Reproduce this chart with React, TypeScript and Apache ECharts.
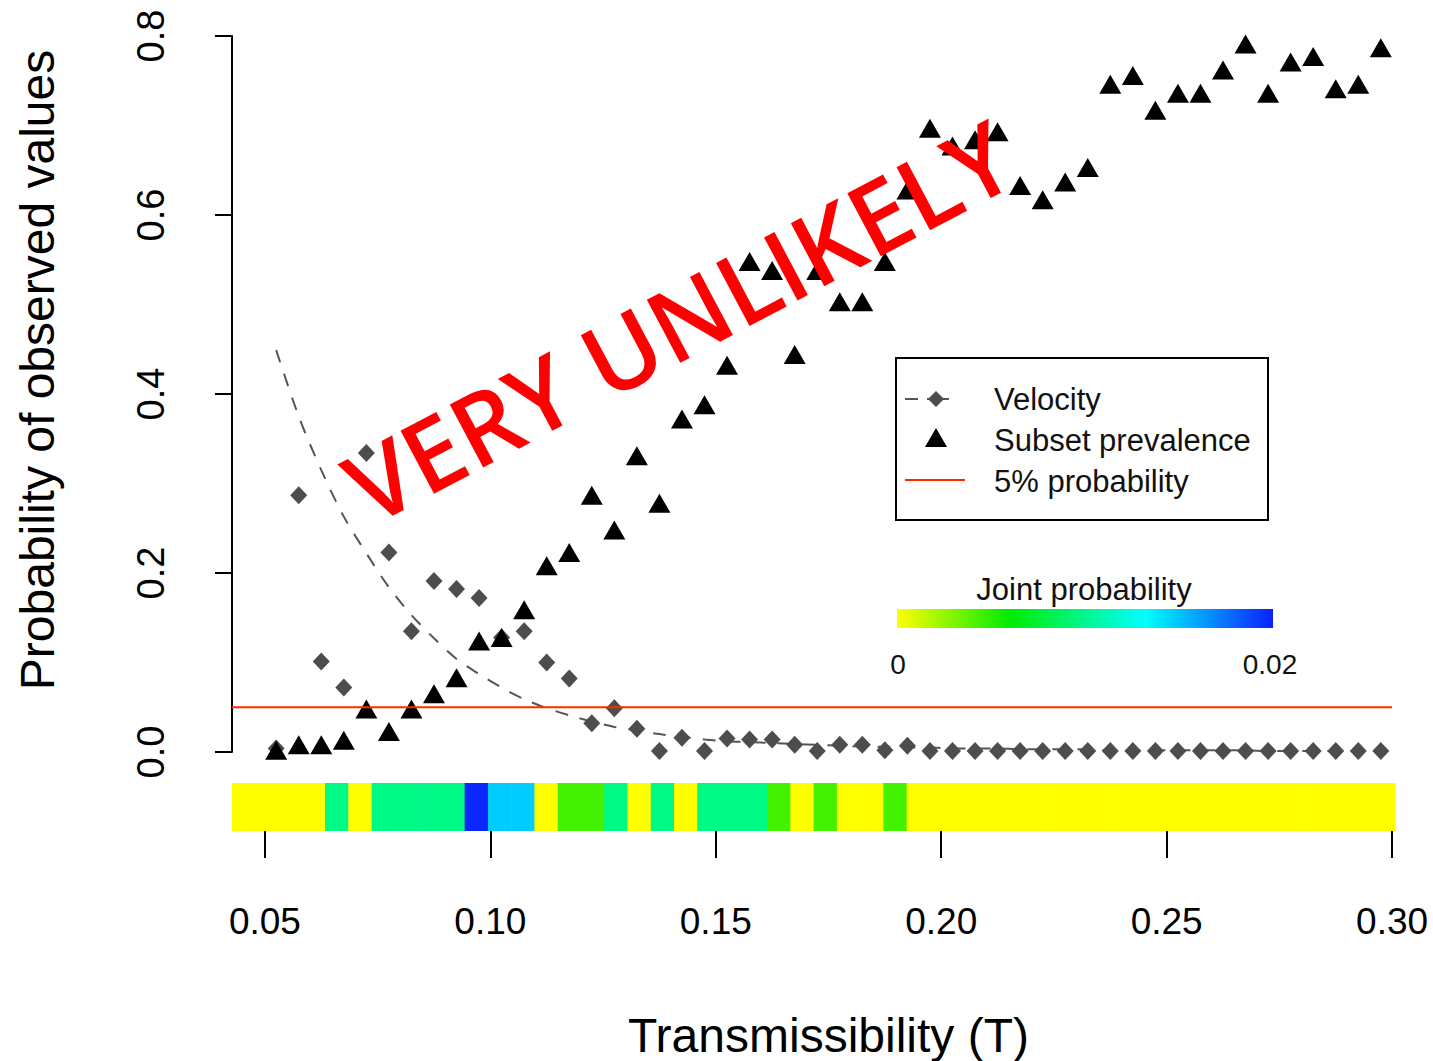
import React, { useEffect, useRef } from "react";
import * as echarts from "echarts";

// Transmissibility values (x)
const T_VALUES = [
  0.0525, 0.0575, 0.0625, 0.0675, 0.0725, 0.0775, 0.0825, 0.0875, 0.0925, 0.0975,
  0.1025, 0.1075, 0.1125, 0.1175, 0.1225, 0.1275, 0.1325, 0.1375, 0.1425, 0.1475,
  0.1525, 0.1575, 0.1625, 0.1675, 0.1725, 0.1775, 0.1825, 0.1875, 0.1925, 0.1975,
  0.2025, 0.2075, 0.2125, 0.2175, 0.2225, 0.2275, 0.2325, 0.2375, 0.2425, 0.2475,
  0.2525, 0.2575, 0.2625, 0.2675, 0.2725, 0.2775, 0.2825, 0.2875, 0.2925, 0.2975,
];

// Probability of observed subset prevalence (triangles)
const SUBSET_PREVALENCE = [
  0.002, 0.008, 0.008, 0.013, 0.048, 0.023, 0.048, 0.065, 0.083, 0.124,
  0.128, 0.159, 0.208, 0.223, 0.287, 0.248, 0.331, 0.278, 0.372, 0.388,
  0.432, 0.548, 0.538, 0.444, 0.538, 0.503, 0.503, 0.548, 0.628, 0.697,
  0.677, 0.684, 0.693, 0.633, 0.617, 0.637, 0.653, 0.746, 0.756, 0.717,
  0.736, 0.736, 0.762, 0.791, 0.736, 0.771, 0.777, 0.741, 0.746, 0.787,
];

// Probability of observed velocity (diamonds)
const VELOCITY = [
  0.004, 0.287, 0.101, 0.072, 0.334, 0.223, 0.135, 0.191, 0.182, 0.172,
  0.128, 0.135, 0.100, 0.082, 0.032, 0.049, 0.026, 0.001, 0.016, 0.001,
  0.015, 0.014, 0.014, 0.008, 0.001, 0.008, 0.008, 0.002, 0.007, 0.001,
  0.001, 0.001, 0.001, 0.001, 0.001, 0.001, 0.001, 0.001, 0.001, 0.001,
  0.001, 0.001, 0.001, 0.001, 0.001, 0.001, 0.001, 0.001, 0.001, 0.001,
];

// Fitted velocity curve (dashed)
const VELOCITY_FIT = [
  0.449, 0.375, 0.315, 0.263, 0.222, 0.184, 0.153, 0.127, 0.104, 0.087,
  0.072, 0.059, 0.049, 0.041, 0.034, 0.028, 0.024, 0.020, 0.017, 0.014,
  0.012, 0.011, 0.010, 0.009, 0.008, 0.007, 0.006, 0.006, 0.005, 0.005,
  0.004, 0.004, 0.004, 0.003, 0.003, 0.003, 0.003, 0.002, 0.002, 0.002,
  0.002, 0.002, 0.002, 0.002, 0.001, 0.001, 0.001, 0.001, 0.001, 0.001,
];

// Joint probability strip (one cell per T value)
const JOINT_PROBABILITY = [
  0, 0, 0, 0, 0.0098, 0, 0.0098, 0.0098, 0.0098, 0.0098,
  0.0198, 0.0148, 0.0148, 0, 0.0044, 0.0044, 0.0098, 0, 0.0098, 0,
  0.0098, 0.0098, 0.0098, 0.0044, 0, 0.0044, 0, 0, 0.0044, 0,
  0, 0, 0, 0, 0, 0, 0, 0, 0, 0,
  0, 0, 0, 0, 0, 0, 0, 0, 0, 0,
];
const STRIP_RANGE = [0.0427, 0.3007];
const JOINT_MAX = 0.02;

const X_RANGE = [0.0427, 0.3073];
const X_TICKS = [0.05, 0.1, 0.15, 0.2, 0.25, 0.3];
const Y_TICKS = [0, 0.2, 0.4, 0.6, 0.8];
const THRESHOLD = 0.05;
const THRESHOLD_X = [0.0427, 0.3];

const COLOR_STOPS: [number, number[]][] = [
  [0, [255, 255, 0]],
  [0.3, [0, 236, 0]],
  [0.66, [0, 255, 255]],
  [1, [10, 32, 255]],
];

function jointColor(v: number): string {
  const t = Math.max(0, Math.min(1, v / JOINT_MAX));
  for (let i = 1; i < COLOR_STOPS.length; i++) {
    const [t1, c1] = COLOR_STOPS[i];
    const [t0, c0] = COLOR_STOPS[i - 1];
    if (t <= t1) {
      const f = (t - t0) / (t1 - t0);
      const c = c0.map((a, k) => Math.round(a + (c1[k] - a) * f));
      if (i === 2) c[1] = Math.max(c[1], 248);
      return `rgb(${c[0]},${c[1]},${c[2]})`;
    }
  }
  return "rgb(10,32,255)";
}

const FONT = "'Liberation Sans', Arial, sans-serif";

export default function App() {
  const ref = useRef<HTMLDivElement>(null);
  useEffect(() => {
    if (!ref.current) return;
    const chart = echarts.init(ref.current, null, { renderer: "svg" });

    const cellW = (STRIP_RANGE[1] - STRIP_RANGE[0]) / JOINT_PROBABILITY.length;
    const stripData = JOINT_PROBABILITY.map((v, i) => [
      STRIP_RANGE[0] + i * cellW,
      STRIP_RANGE[0] + (i + 1) * cellW,
      v,
    ]);

    const diamond = (cx: number, cy: number, r: number) => [
      [cx, cy - r],
      [cx + r, cy],
      [cx, cy + r],
      [cx - r, cy],
    ];

    const option: any = {
      animation: false,
      backgroundColor: "#ffffff",
      grid: [
        { left: 232, top: 36, width: 1193, height: 716 },
        { left: 232, top: 783, width: 1193, height: 48 },
      ],
      xAxis: [
        {
          gridIndex: 0,
          type: "value",
          min: X_RANGE[0],
          max: X_RANGE[1],
          show: false,
        },
        {
          gridIndex: 1,
          type: "value",
          min: X_RANGE[0],
          max: X_RANGE[1],
          axisLine: { show: false },
          splitLine: { show: false },
          axisTick: {
            show: true,
            length: 27,
            customValues: X_TICKS,
            lineStyle: { color: "#000", width: 2 },
          },
          axisLabel: {
            customValues: X_TICKS,
            formatter: (v: number) => v.toFixed(2),
            fontSize: 37,
            fontFamily: FONT,
            color: "#000",
            margin: 72,
          },
          name: "Transmissibility (T)",
          nameLocation: "middle",
          nameGap: 180,
          nameTextStyle: { fontSize: 48, fontFamily: FONT, color: "#000" },
        },
      ],
      yAxis: [
        {
          gridIndex: 0,
          type: "value",
          min: 0,
          max: 0.8,
          interval: 0.2,
          splitLine: { show: false },
          axisLine: { show: true, lineStyle: { color: "#000", width: 2 } },
          axisTick: { show: true, length: 17, lineStyle: { color: "#000", width: 2 } },
          axisLabel: {
            rotate: 90,
            formatter: (v: number) => v.toFixed(1),
            fontSize: 38,
            fontFamily: FONT,
            color: "#000",
            margin: 62,
          },
        },
        {
          gridIndex: 1,
          type: "value",
          min: 0,
          max: 1,
          show: false,
        },
      ],
      series: [
        {
          name: "Joint probability",
          type: "custom",
          xAxisIndex: 1,
          yAxisIndex: 1,
          data: stripData,
          renderItem: (params: any, api: any) => {
            const p0 = api.coord([api.value(0), 1]);
            const p1 = api.coord([api.value(1), 0]);
            return {
              type: "rect",
              shape: { x: p0[0], y: p0[1], width: p1[0] - p0[0] + 0.6, height: p1[1] - p0[1] },
              style: { fill: jointColor(api.value(2)) },
            };
          },
          z: 1,
        },
        {
          name: "Velocity fit",
          type: "line",
          data: T_VALUES.map((t, i) => [t, VELOCITY_FIT[i]]),
          symbol: "none",
          smooth: 0.3,
          lineStyle: { color: "#555555", width: 2, type: [13, 12] },
          z: 2,
        },
        {
          name: "Velocity",
          type: "scatter",
          data: T_VALUES.map((t, i) => [t, VELOCITY[i]]),
          symbol: "diamond",
          symbolSize: [17, 18],
          itemStyle: { color: "#4d4d4d", opacity: 1 },
          clip: false,
          z: 3,
        },
        {
          name: "Subset prevalence",
          type: "scatter",
          data: T_VALUES.map((t, i) => [t, SUBSET_PREVALENCE[i]]),
          symbol: "triangle",
          symbolSize: [22, 19],
          itemStyle: { color: "#000000", opacity: 1 },
          clip: false,
          z: 4,
        },
        {
          name: "5% probability",
          type: "line",
          data: THRESHOLD_X.map((x) => [x, THRESHOLD]),
          symbol: "none",
          lineStyle: { color: "#ff2a00", width: 2 },
          z: 5,
        },
      ],
      graphic: [
        {
          type: "text",
          x: 37,
          y: 370,
          rotation: Math.PI / 2,
          style: {
            text: "Probability of observed values",
            fontSize: 48,
            fontFamily: FONT,
            fill: "#000",
            align: "center",
            verticalAlign: "middle",
          },
        },
        // Legend box
        {
          type: "rect",
          shape: { x: 896, y: 358, width: 372, height: 162 },
          style: { fill: "#fff", stroke: "#000", lineWidth: 2 },
          z: 10,
        },
        {
          type: "line",
          shape: { x1: 905, y1: 399, x2: 918, y2: 399 },
          style: { stroke: "#555", lineWidth: 2 },
          z: 11,
        },
        {
          type: "line",
          shape: { x1: 927, y1: 399, x2: 949, y2: 399 },
          style: { stroke: "#555", lineWidth: 2 },
          z: 11,
        },
        {
          type: "polygon",
          shape: { points: diamond(936, 399, 8) },
          style: { fill: "#4d4d4d" },
          z: 11,
        },
        {
          type: "polygon",
          shape: { points: [[936, 428], [947, 447], [925, 447]] },
          style: { fill: "#000" },
          z: 11,
        },
        {
          type: "line",
          shape: { x1: 905, y1: 480, x2: 965, y2: 480 },
          style: { stroke: "#ff2a00", lineWidth: 2 },
          z: 11,
        },
        ...["Velocity", "Subset prevalence", "5% probability"].map((t, i) => ({
          type: "text",
          x: 994,
          y: [399, 440, 481][i],
          z: 11,
          style: {
            text: t,
            fontSize: 31,
            fontFamily: FONT,
            fill: "#111",
            align: "left",
            verticalAlign: "middle",
          },
        })),
        // Color bar legend
        {
          type: "text",
          x: 1084,
          y: 589,
          style: {
            text: "Joint probability",
            fontSize: 31,
            fontFamily: FONT,
            fill: "#111",
            align: "center",
            verticalAlign: "middle",
          },
        },
        {
          type: "rect",
          shape: { x: 897, y: 609, width: 376, height: 19 },
          style: {
            fill: new echarts.graphic.LinearGradient(
              0,
              0,
              1,
              0,
              COLOR_STOPS.map(([o, c]) => ({ offset: o, color: `rgb(${c[0]},${c[1]},${c[2]})` }))
            ),
          },
        },
        {
          type: "text",
          x: 898,
          y: 664,
          style: {
            text: "0",
            fontSize: 28,
            fontFamily: FONT,
            fill: "#111",
            align: "center",
            verticalAlign: "middle",
          },
        },
        {
          type: "text",
          x: 1270,
          y: 664,
          style: {
            text: "0.02",
            fontSize: 28,
            fontFamily: FONT,
            fill: "#111",
            align: "center",
            verticalAlign: "middle",
          },
        },
        // Annotation
        {
          type: "text",
          x: 678,
          y: 320,
          rotation: (28 * Math.PI) / 180,
          z: 20,
          style: {
            text: "VERY UNLIKELY",
            fontSize: 100,
            fontFamily: "'Open Sans', 'Liberation Sans', sans-serif",
            fontWeight: 600,
            fill: "#ff0000",
            align: "center",
            verticalAlign: "middle",
          },
        },
      ],
    };

    chart.setOption(option);
    return () => chart.dispose();
  }, []);

  return (
    <div
      ref={ref}
      style={{ position: "fixed", left: 0, top: 0, width: 1433, height: 1061, background: "#fff" }}
    />
  );
}
